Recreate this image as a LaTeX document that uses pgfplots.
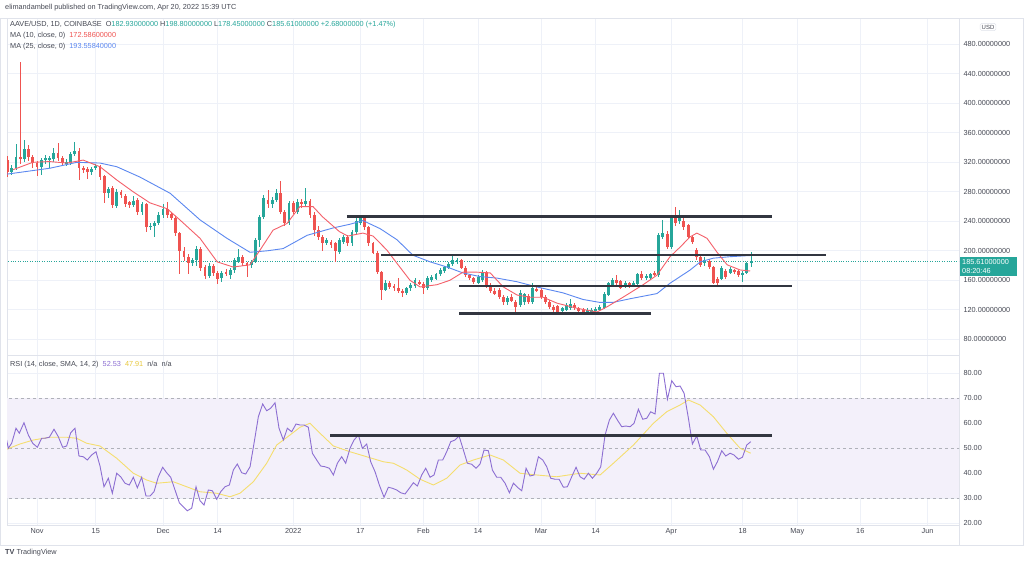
\documentclass[border=0pt]{standalone}
\usepackage{pgfplots}
\pgfplotsset{compat=1.18}
\usepackage{pgfplotstable}
\usepackage{fontspec}
\setmainfont{Liberation Sans}
\definecolor{upc}{RGB}{38,166,154}
\definecolor{dnc}{RGB}{239,83,80}
\definecolor{ma10}{RGB}{244,96,106}
\definecolor{ma25}{RGB}{92,136,240}
\definecolor{gridc}{RGB}{238,241,248}
\definecolor{framec}{RGB}{224,227,235}
\definecolor{txtc}{RGB}{70,73,84}
\definecolor{rsic}{RGB}{140,110,210}
\definecolor{smac}{RGB}{245,222,110}
\definecolor{smatxt}{RGB}{232,200,60}
\definecolor{bandc}{RGB}{243,240,250}
\definecolor{dashc}{RGB}{175,177,185}
\definecolor{hlinec}{RGB}{50,54,64}
\newcommand{\sm}{\fontsize{7.3}{8.6}\selectfont}

\pgfplotstableread{
x o h l c
-6 307 316 303 312
-5 312 345 309 327
-3 324 350 320 338
1 314 326 303 323
2 323 330 318 326
3 324 329 312 325.5
4 324 340 320 332
7 318 324 315 321
8 319 334 317 331
9 331 348 328 336
13 307 314 303 311
14 312 318 309 315
17 278 287 272 284
19 261 284 258 280
23 262 274 259 268
25 252 266 249 263
27 232 238 228 234
28 233 241 219 238
29 238 252 235 248
30 248 263 245 257
37 184 190 180 187
38 187 207 180 203
41 166 184 163 180
44 163 173 158 170
46 167 177 162 174
47 174 190 170 187
48 185 202 183 192
51 181 188 177 185
52 185 217 183 214
53 214 249 205 246
54 246 275 243 271
56 263 273 258 269
57 269 284 266 278
60 238 268 235 265
62 253 270 250 266
64 264 285 261 267
69 211 218 208 215
72 198 218 195 215
73 212 222 209 219
75 210 228 207 225
76 225 244 222 241
77 238 248 235 244
83 147 160 145 157
88 143 151 140 149
89 149 156 146 153
90 152 163 150 160
93 149 166 147 163
94 160 167 158 164
95 162 170 160 168
96 168 177 166 174
97 172 180 170 178
98 177 185 175 182
99 182 193 180 188
100 185 190 182 187
105 157 167 155 165
106 160 174 158 171
112 130 139 127 136
115 126 147 124 143
116 130 143 127 141
118 130 156 128 150
125 118 124 116 122
126 120 129 118 126
127 122 134 120 128
131 118 122 115 119.5
132 118 122 116 120
133 119 124 117 121
134 120 127 118 124
135 122 144 121 142
136 140 158 139 156
137 154 163 151 160
140 152 159 150 157
142 154 159 152 157
143 155 170 153 168
145 163 168 161 166
146 163 170 161 168
148 167 224 165 221
149 219 242 216 224
151 205 248 203 246
153 240 255 236 244
159 184 191 180 188
163 162 179 160 177
165 170 178 168 175
168 167 172 158 170
169 170 185 168 183
170 182.93 198.8 178.45 185.61
}\updata

\pgfplotstableread{
x o h l c
-7 323 328 300 307
-4 327 456 318 324
-2 338 343 322 327
-1 327 330 312 319
0 319 322 302 314
5 332 346 322 326
6 326 329 315 319
10 336 340 296 312
11 312 315 305 310
12 311 314 297 307
15 313 316 296 300
16 301 303 265 278
18 285 288 258 262
20 280 283 271 275
21 274 277 260 264
22 266 268 258 262
24 269 271 249 252
26 263 265 226 232
31 257 266 245 248
32 250 253 242 245
33 245 247 220 224
34 224 226 168 200
35 200 205 186 192
36 192 195 168 184
39 203 205 172 177
40 178 181 162 166
42 180 182 166 170
43 170 172 155 162
45 171 175 166 169
49 192 194 180 183
50 183 185 165 179
55 269 282 258 264
58 278 295 250 253
59 253 256 233 238
61 265 268 250 253
63 266 270 258 264
65 267 270 245 248
66 248 253 220 228
67 228 233 215 219
68 219 221 200 211
70 212 215 204 208
71 210 212 185 200
74 219 222 207 211
78 244 246 228 232
79 232 234 207 210
80 210 212 195 197
81 197 200 168 171
82 171 173 133 147
84 157 159 148 151
85 152 155 146 149
86 149 163 143 145
87 146 148 138 143
91 158 161 153 155
92 155 158 142 149
101 187 189 175 177
102 177 179 164 167
103 167 169 160 163
104 163 165 155 158
107 171 173 150 153
108 153 156 143 145
109 146 149 140 142
110 147 149 135 138
111 138 140 127 130
113 138 141 130 132
114 131 133 113 124
117 139 142 128 130
119 148 152 144 147
120 147 149 135 138
121 138 140 128 130
122 131 133 121 124
123 124 126 117 120
124 125 127 115 117
128 126 129 120 122
129 122 124 116 118
130 120 122 116 118
138 160 167 154 156
139 159 161 148 150
141 156 158 150 152
144 168 172 161 163
147 170 173 166 168
150 223 227 202 205
152 246 260 234 238
154 241 245 228 232
155 235 237 216 219
156 219 222 209 212
157 201 204 188 192
158 192 194 178 181
160 186 189 175 178
161 178 180 155 157
162 162 164 154 157
164 172 175 162 165
166 174 176 168 171
167 172 174 165 167
}\dndata

\pgfplotsset{
  tvbase/.style={
    scale only axis, width=952pt,
    xmin=-7.14, xmax=219.5,
    axis line style={draw=framec, line width=0.6pt},
    xtick={0,14,30,43,61,77,92,105,120,133,151,168,181,196,212},
    grid=major, major grid style={draw=gridc, line width=0.7pt},
    major tick length=0pt,
    yticklabel pos=right,
    ticklabel style={font=\sm, text=txtc},
    yticklabel style={anchor=west, xshift=1pt},
  },
  wick/.style={draw=none, mark=none, forget plot,
    error bars/.cd, y dir=both, y explicit, error mark=none,
    error bar style={draw=#1, line width=0.8pt, solid}},
  body/.style={draw=none, mark=none, forget plot,
    error bars/.cd, y dir=both, y explicit, error mark=none,
    error bar style={draw=#1, line width=2.9pt, solid}},
}

\begin{document}
\begin{tikzpicture}[x=1pt,y=1pt]
\fill[white] (0,0) rectangle (1024,565);
\draw[framec, line width=0.6pt] (0.5,20) rectangle (1023.5,547);
\draw[framec, line width=0.6pt] (959,20) -- (959,547);

% ---------------- price panel ----------------
\begin{axis}[tvbase,
  at={(7pt,210pt)}, anchor=south west, height=337pt,
  ymin=58.7, ymax=515.7,
  xticklabels={},
  ytick={80,120,160,200,240,280,320,360,400,440,480},
  yticklabels={80.00000000,120.00000000,160.00000000,200.00000000,240.00000000,280.00000000,320.00000000,360.00000000,400.00000000,440.00000000,480.00000000},
]
% current price line
\addplot[upc, line width=0.6pt, dash pattern=on 0.8pt off 1.6pt, forget plot] coordinates {(-8,185.61) (220,185.61)};
% wicks
\addplot[wick=upc] table[x=x, y expr={(\thisrow{h}+\thisrow{l})/2}, y error expr={(\thisrow{h}-\thisrow{l})/2}] {\updata};
\addplot[wick=dnc] table[x=x, y expr={(\thisrow{h}+\thisrow{l})/2}, y error expr={(\thisrow{h}-\thisrow{l})/2}] {\dndata};
% bodies
\addplot[body=upc] table[x=x, y expr={(\thisrow{o}+\thisrow{c})/2}, y error expr={abs(\thisrow{c}-\thisrow{o})/2}] {\updata};
\addplot[body=dnc] table[x=x, y expr={(\thisrow{o}+\thisrow{c})/2}, y error expr={abs(\thisrow{c}-\thisrow{o})/2}] {\dndata};
% MA 25
\addplot[ma25, line width=0.9pt, mark=none] coordinates {
(-7.1,304) (3.1,312) (9.5,320) (15,319) (19,314) (24.5,300) (31.7,278) (38.8,242) (45.2,217) (50.7,198) (54.8,200) (58.6,203) (64.3,221) (70.5,231) (74.5,236) (77.6,241) (81.7,230) (85.7,215) (89.5,194) (93.6,185) (97.6,178) (101.4,170) (105.5,165) (109.5,163) (114.3,158) (119,151) (125.2,143) (130,134) (134,130) (137.1,130) (141.2,135) (147.6,142) (150.7,156) (153.1,165) (155.5,174) (157.9,185) (161,190) (165,192) (169.8,193.6)};
% MA 10
\addplot[ma10, line width=0.9pt, mark=none] coordinates {
(-5.7,310) (-1,320) (3,321) (7.1,319) (11,323) (15,314) (19,296) (22.9,280) (26.9,265) (31,257) (34,242) (38.8,217) (42.9,185) (46.7,178) (50.7,181) (53.1,201) (56.2,228) (59.5,237) (62.6,260) (65.7,260) (68,246) (70,236) (72,226) (74,220) (77.6,224) (80,220) (83.3,201) (85.7,183) (88.8,160) (91.2,151) (95.2,154) (98.3,160) (101.4,171) (104.8,171) (107.9,170) (111,151) (114.3,140) (117.4,137) (120.5,137) (123.8,129) (128.6,122) (133.3,117) (135.7,124) (139.5,137) (144.3,154) (147.6,167) (150.7,192) (153.1,205) (155.5,219) (157.1,224) (159.5,217) (161.9,198) (164.3,181) (167.4,174) (169.8,172.6)};
% horizontal levels
\addplot[hlinec, line width=2.6pt, mark=none] coordinates {(73.8,246.5) (175,246.5)};
\addplot[hlinec, line width=2.6pt, mark=none] coordinates {(82,194.3) (187.8,194.3)};
\addplot[hlinec, line width=2.6pt, mark=none] coordinates {(100.5,152.5) (179.8,152.5)};
\addplot[hlinec, line width=2.6pt, mark=none] coordinates {(100.5,115.3) (146.1,115.3)};
\end{axis}

% ---------------- RSI panel ----------------
\begin{axis}[tvbase,
  at={(7pt,40pt)}, anchor=south west, height=170pt,
  ymin=19.2, ymax=87.2,
  xticklabels={Nov,15,Dec,14,2022,17,Feb,14,Mar,14,Apr,18,May,16,Jun},
  ytick={20,30,40,50,60,70,80},
  yticklabels={20.00,30.00,40.00,50.00,60.00,70.00,80.00},
]
\addplot[fill=bandc, draw=none, forget plot] coordinates {(-8,30) (221,30) (221,70) (-8,70)} -- cycle;
\addplot[dashc, line width=0.6pt, dash pattern=on 3pt off 3pt, mark=none] coordinates {(-8,70) (221,70)};
\addplot[dashc, line width=0.6pt, dash pattern=on 3pt off 3pt, mark=none] coordinates {(-8,50) (221,50)};
\addplot[dashc, line width=0.6pt, dash pattern=on 3pt off 3pt, mark=none] coordinates {(-8,30) (221,30)};
% RSI SMA
\addplot[smac, line width=0.9pt, mark=none] coordinates {
(-7.22,49.5) (-4.05,51.6) (-0.87,53.2) (3.1,54.3) (7.06,54.3) (9.44,53.9) (11.83,51.9) (15.0,50.8) (18.97,45.9) (22.94,39.9) (26.11,37.2) (28.49,35.9) (32.46,36.5) (35.63,34.5) (38.81,32.5) (42.78,31.9) (45.95,30.5) (48.33,31.9) (51.51,36.5) (54.68,43.9) (57.06,51.2) (60.24,55.2) (62.62,58.3) (65.0,59.9) (67.38,55.9) (70.56,50.8) (74.52,48.5) (78.49,46.5) (82.46,44.5) (84.84,43.9) (88.02,41.2) (91.2,37.5) (94.37,35.2) (97.54,37.9) (100.71,43.2) (103.89,45.2) (107.86,47.2) (111.03,45.2) (115.0,39.9) (118.97,39.2) (123.73,38.5) (129.29,39.9) (134.05,39.2) (137.22,43.9) (142.0,51.2) (146.75,59.9) (149.92,64.5) (153.1,67.2) (155.08,69.2) (157.86,67.2) (161.03,62.5) (164.21,55.9) (167.38,49.9) (169.92,47.91)};
% RSI
\addplot[rsic, line width=0.9pt, mark=none] coordinates {
(-7.22,53.2) (-6.83,49.9) (-6.03,51.9) (-5.0,57.9) (-4.21,55.9) (-3.10,60.1) (-2.06,55.2) (-1.03,51.9) (0.08,50.3) (1.11,53.9) (1.90,53.9) (2.94,54.3) (4.05,57.5) (5.08,54.5) (6.11,50.3) (7.06,50.8) (8.02,56.1) (9.05,57.9) (9.99,46.8) (11.03,46.5) (11.98,45.2) (13.0,47.2) (14.05,48.5) (15.0,42.8) (15.95,34.5) (16.98,37.9) (17.94,31.9) (18.97,39.9) (19.92,38.5) (20.95,35.9) (21.98,35.2) (22.94,38.3) (23.89,34.1) (24.92,38.3) (25.95,30.8) (26.9,30.8) (27.86,32.5) (28.89,38.5) (29.92,42.3) (30.87,40.1) (31.83,38.3) (32.86,33.2) (33.89,28.1) (34.84,26.5) (35.79,24.9) (36.83,25.9) (37.86,34.5) (38.81,28.9) (39.76,27.2) (40.79,33.2) (41.75,32.9) (42.78,29.5) (43.73,32.5) (44.76,34.5) (45.79,35.2) (46.75,41.2) (47.7,43.6) (48.73,40.1) (49.68,39.6) (50.72,42.5) (51.67,51.9) (52.7,62.5) (53.73,67.6) (54.68,64.9) (55.63,65.9) (56.67,68.1) (57.62,57.9) (58.65,53.2) (59.6,57.9) (60.63,56.5) (61.67,59.6) (62.62,59.2) (63.57,59.2) (64.6,58.3) (65.56,47.9) (66.59,45.2) (67.54,42.8) (68.57,42.5) (69.6,41.9) (70.56,39.2) (71.51,43.9) (72.54,46.5) (73.49,43.9) (74.52,49.9) (75.48,53.2) (76.51,55.2) (77.46,49.9) (78.49,51.6) (79.44,44.5) (80.48,40.5)
(81.5,35.2) (82.62,30.3) (83.65,34.3) (84.6,33.9) (85.64,33.2) (86.59,32.1) (87.62,31.6) (88.65,33.9) (89.6,36.1) (90.56,34.8) (91.59,39.2) (92.54,41.9) (93.57,38.3) (94.52,39.2) (95.56,45.2) (96.59,45.2) (97.54,48.5) (98.49,52.5) (99.52,53.2) (100.48,54.8) (101.51,49.2) (102.46,43.9) (103.49,43.5) (104.52,41.9) (105.48,43.6) (106.43,49.2) (107.46,48.9) (108.41,41.2) (109.44,38.3) (110.4,38.3) (111.43,35.9) (112.46,32.1) (113.41,35.9) (114.37,34.3) (115.4,32.9) (116.43,41.9) (117.38,38.8) (118.33,39.2) (119.37,46.5) (120.4,45.2) (121.35,42.5) (122.3,37.9) (123.33,37.5) (124.29,37.5) (125.32,34.3) (126.27,34.5) (127.3,38.5) (128.33,42.3) (129.29,38.5) (130.24,37.5) (131.27,39.9) (132.22,37.9) (133.25,39.9) (134.21,42.5) (135.24,55.2) (136.27,61.2) (137.22,63.9) (138.17,61.2) (139.21,58.5) (140.16,58.8) (141.19,58.5) (142.14,59.9) (143.17,65.5) (144.21,61.5) (145.16,61.9) (146.11,64.5) (147.14,63.6) (148.17,79.9) (149.13,79.9) (150.08,69.5) (151.11,76.9) (152.14,74.5) (153.1,74.8) (154.05,71.9) (155.08,61.9) (156.03,51.6) (157.06,54.8) (158.02,49.2) (159.05,49.2) (160.08,46.5) (161.03,41.5) (161.98,44.5) (163.02,48.9) (163.97,46.8) (165.0,47.9) (165.95,47.2) (166.98,45.5) (167.94,46.3) (168.97,51.2) (169.92,52.53)};
\addplot[hlinec, line width=2.6pt, mark=none] coordinates {(69.8,54.9) (175,54.9)};
\end{axis}

% ---------------- texts ----------------
\node[anchor=west, inner sep=0pt, text=txtc, font=\sm] at (5,557) {elimandambell published on TradingView.com, Apr 20, 2022 15:39 UTC};
\node[anchor=west, inner sep=0pt, text=txtc, font=\sm] at (10,540) {AAVE/USD, 1D, COINBASE\ \ O\textcolor{upc}{182.93000000}\ H\textcolor{upc}{198.80000000}\ L\textcolor{upc}{178.45000000}\ C\textcolor{upc}{185.61000000}\ \textcolor{upc}{+2.68000000 (+1.47\%)}};
\node[anchor=west, inner sep=0pt, text=txtc, font=\sm] at (10,529) {MA (10, close, 0)\ \ \textcolor{dnc}{172.58600000}};
\node[anchor=west, inner sep=0pt, text=txtc, font=\sm] at (10,518) {MA (25, close, 0)\ \ \textcolor{ma25}{193.55840000}};
\node[anchor=west, inner sep=0pt, text=txtc, font=\sm] at (10,200) {RSI (14, close, SMA, 14, 2)\ \ \textcolor{rsic}{52.53}\ \ \textcolor{smatxt}{47.91}\ \ n/a\ \ n/a};
\node[draw=framec, rounded corners=1.5pt, inner sep=1.5pt, text=txtc, font=\fontsize{6}{7}\selectfont] at (988,538) {USD};
\fill[upc] (960,289) rectangle (1017,308);
\node[anchor=west, inner sep=0pt, text=white, font=\sm] at (962,303) {185.61000000};
\node[anchor=west, inner sep=0pt, text=white, font=\sm] at (962,294) {08:20:46};
\node[anchor=west, inner sep=0pt, text=txtc, font=\sm] at (5,12) {\textbf{TV}\ TradingView};
\end{tikzpicture}
\end{document}
